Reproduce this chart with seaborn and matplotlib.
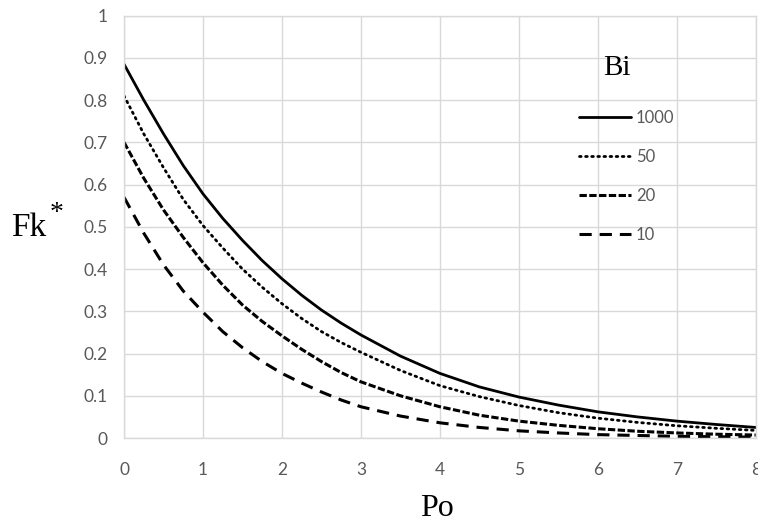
import numpy as np
import pandas as pd
import matplotlib
matplotlib.use("Agg")
import matplotlib.pyplot as plt
import seaborn as sns

po = [0, 0.25, 0.5, 0.75, 1, 1.25, 1.5, 1.75, 2, 2.25, 2.5, 2.75, 3,
      3.5, 4, 4.5, 5, 5.5, 6, 6.5, 7, 7.5, 8]
fk_1000 = [0.885, 0.80, 0.72, 0.645, 0.578, 0.52, 0.468, 0.42, 0.377, 0.338, 0.303, 0.272,
           0.244, 0.194, 0.153, 0.121, 0.097, 0.078, 0.062, 0.05, 0.04, 0.032, 0.025]
fk_50 = [0.81, 0.72, 0.64, 0.565, 0.503, 0.45, 0.40, 0.357, 0.318, 0.283, 0.252, 0.226,
         0.203, 0.16, 0.124, 0.098, 0.077, 0.06, 0.047, 0.037, 0.029, 0.023, 0.018]
fk_20 = [0.70, 0.615, 0.54, 0.475, 0.415, 0.362, 0.315, 0.276, 0.242, 0.21, 0.181, 0.155,
         0.133, 0.1, 0.074, 0.054, 0.04, 0.03, 0.022, 0.016, 0.012, 0.009, 0.007]
fk_10 = [0.57, 0.485, 0.41, 0.348, 0.298, 0.252, 0.214, 0.181, 0.153, 0.13, 0.109, 0.09,
         0.074, 0.052, 0.036, 0.025, 0.017, 0.012, 0.008, 0.006, 0.004, 0.003, 0.002]
bi_labels = ["1000", "50", "20", "10"]
x_ticks = [0, 1, 2, 3, 4, 5, 6, 7, 8]
y_ticks = [0, 0.1, 0.2, 0.3, 0.4, 0.5, 0.6, 0.7, 0.8, 0.9, 1]
y_tick_labels = ["0", "0.1", "0.2", "0.3", "0.4", "0.5", "0.6", "0.7", "0.8", "0.9", "1"]

sns.set_style("white")
plt.rcParams["font.family"] = ["Lato", "DejaVu Sans"]

fig = plt.figure(figsize=(7.58, 5.22), dpi=100)
ax = fig.add_axes([0.1636, 0.1609, 0.8334, 0.8093])

series = [fk_1000, fk_50, fk_20, fk_10]
styles = [
    dict(linestyle="-", linewidth=2.0),
    dict(linestyle=(0, (0.6, 1.6)), linewidth=2.0, dash_capstyle="round"),
    dict(linestyle=(0, (2.4, 0.8)), linewidth=2.2),
    dict(linestyle=(0, (4.0, 2.6)), linewidth=2.2),
]
for vals, lab, st in zip(series, bi_labels, styles):
    df = pd.DataFrame({"Po": po, "Fk": vals})
    sns.lineplot(data=df, x="Po", y="Fk", ax=ax, color="black", label=lab, **st)

ax.set_xlim(0, 8)
ax.set_ylim(0, 1)
ax.set_xticks(x_ticks)
ax.set_xticklabels([str(t) for t in x_ticks])
ax.set_yticks(y_ticks)
ax.set_yticklabels(y_tick_labels)
ax.tick_params(axis="both", length=0, labelsize=12.5, labelcolor="#595959")
ax.tick_params(axis="x", pad=17)
ax.tick_params(axis="y", pad=12)
ax.grid(True, color="#d9d9d9", linewidth=1.0)
for sp in ax.spines.values():
    sp.set_color("#d9d9d9")
    sp.set_linewidth(1.0)
ax.set_xlabel("")
ax.set_ylabel("")

leg = ax.legend(loc="upper left", bbox_to_anchor=(0.710, 0.793), frameon=False,
                handlelength=3.1, handletextpad=0.3, labelspacing=1.38,
                fontsize=12, borderaxespad=0)
for t in leg.get_texts():
    t.set_color("#595959")

fig.text(617 / 758, 1 - 68 / 522, "Bi", family="Liberation Serif",
         fontsize=21, ha="center", va="center", color="black")
fig.text(29 / 758, 1 - 228 / 522, "Fk", family="Liberation Serif",
         fontsize=24, ha="center", va="center", color="black")
fig.text(57 / 758, 1 - 214 / 522, "*", family="Liberation Serif",
         fontsize=20, ha="center", va="center", color="black")
fig.text(437 / 758, 1 - 508 / 522, "Po", family="Liberation Serif",
         fontsize=23, ha="center", va="center", color="black")

fig.savefig("out.png", dpi=100)
